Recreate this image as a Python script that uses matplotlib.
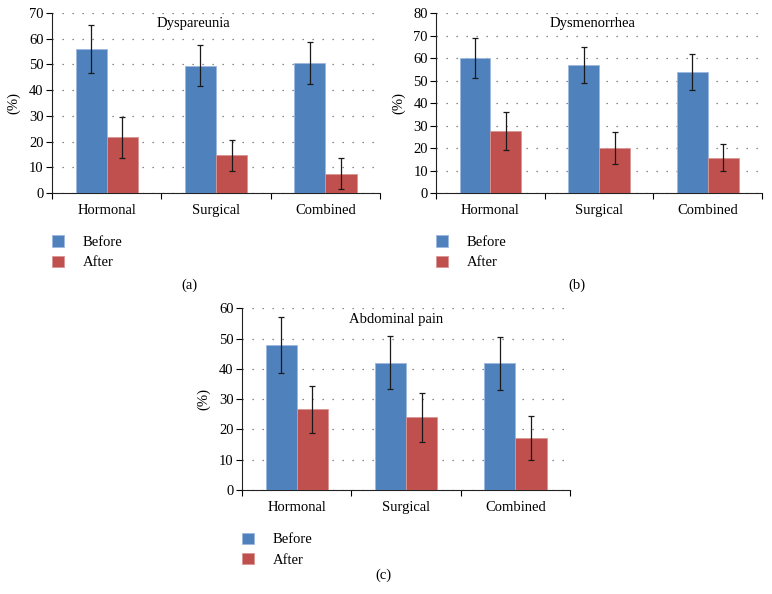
import numpy as np
import matplotlib.pyplot as plt

plt.rcParams['font.family'] = ['Liberation Serif', 'DejaVu Serif']

CATEGORIES = ['Hormonal', 'Surgical', 'Combined']
TITLES = ['Dyspareunia', 'Dysmenorrhea', 'Abdominal pain']
PANEL_LABELS = ['(a)', '(b)', '(c)']
YMAX = [70, 80, 60]

BEFORE = [
    [56.0, 49.6, 50.6],
    [60.0, 56.8, 54.0],
    [48.0, 42.0, 41.8],
]
BEFORE_ERR = [
    [9.2, 8.0, 8.0],
    [8.8, 8.0, 8.0],
    [9.2, 8.7, 8.8],
]
AFTER = [
    [21.7, 14.7, 7.5],
    [27.6, 20.0, 15.7],
    [26.7, 24.1, 17.2],
]
AFTER_ERR = [
    [8.0, 6.0, 6.0],
    [8.3, 7.2, 6.0],
    [7.8, 8.1, 7.3],
]

BLUE = '#4F81BD'
RED = '#C0504D'

fig = plt.figure(figsize=(7.72, 5.94), dpi=100)

# axes rectangles in figure fractions (left, bottom, width, height)
rects = [
    (0.0674, 0.675, 0.425, 0.303),
    (0.565, 0.675, 0.422, 0.303),
    (0.3135, 0.175, 0.425, 0.306),
]
label_pos = [(0.246, 0.52), (0.747, 0.52), (0.497, 0.032)]
title_x = [0.43, 0.48, 0.47]

x = np.arange(len(CATEGORIES))
w = 0.285
err_style = dict(ecolor='#1a1a1a', elinewidth=0.9, capsize=2.5, capthick=0.9)

for i in range(3):
    ax = fig.add_axes(rects[i])
    ax.bar(x - w / 2, BEFORE[i], w, color=BLUE, edgecolor='#9DB9DE', linewidth=0.6,
           yerr=BEFORE_ERR[i], error_kw=err_style, label='Before', zorder=3)
    ax.bar(x + w / 2, AFTER[i], w, color=RED, edgecolor='#D99593', linewidth=0.6,
           yerr=AFTER_ERR[i], error_kw=err_style, label='After', zorder=3)

    ax.set_xlim(-0.5, 2.5)
    ax.set_ylim(0, YMAX[i])
    ax.set_yticks(np.arange(0, YMAX[i] + 1, 10))
    ax.set_xticks(x)
    ax.set_xticklabels(CATEGORIES, fontsize=10.5)
    ax.set_xticks([-0.5, 0.5, 1.5, 2.5], minor=True)
    ax.tick_params(axis='x', which='major', length=0, pad=8)
    ax.tick_params(axis='x', which='minor', length=4, direction='out', width=0.8)
    ax.tick_params(axis='y', length=4, width=0.8, labelsize=10.5, pad=2)
    for s in ['top', 'right']:
        ax.spines[s].set_visible(False)
    for s in ['left', 'bottom']:
        ax.spines[s].set_linewidth(0.8)
        ax.spines[s].set_color('#222222')
    ax.yaxis.grid(True, linestyle=(0, (1, 7)), color='#666666', linewidth=0.9, zorder=0)
    ax.set_axisbelow(True)
    ax.set_ylabel('(%)', fontsize=10.5, labelpad=6)
    ax.text(title_x[i], 0.94, TITLES[i], transform=ax.transAxes, ha='center', va='center', fontsize=10.5)

    ax.legend(loc='upper left', bbox_to_anchor=(0.0, -0.235), frameon=False, fontsize=10.5,
              handlelength=0.8, handleheight=0.8, handletextpad=1.3, borderpad=0, borderaxespad=0,
              labelspacing=0.45)

    fig.text(label_pos[i][0], label_pos[i][1], PANEL_LABELS[i], ha='center', va='center', fontsize=10.5)

fig.savefig('out.png', dpi=100)
